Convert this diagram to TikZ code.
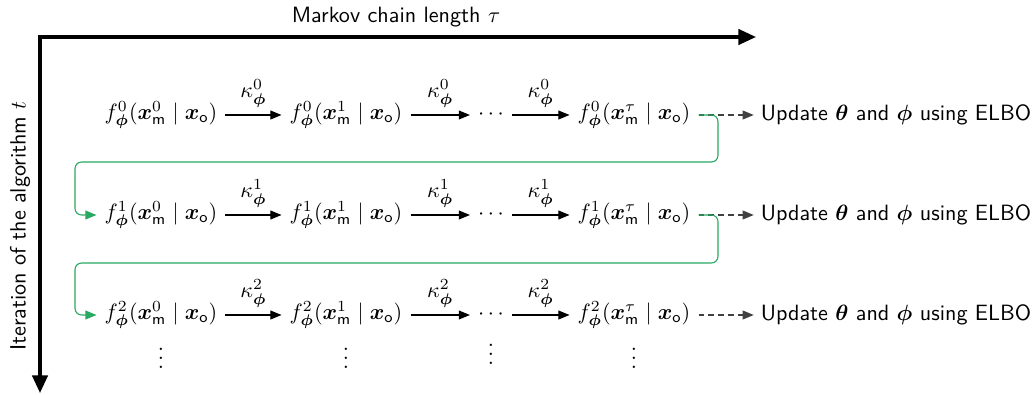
\documentclass[tikz,border=0pt]{standalone}
\usepackage{bm}
\usetikzlibrary{arrows.meta}
\definecolor{loopgreen}{RGB}{40,168,96}
\tikzset{
  fnode/.style={inner sep=3.5pt, anchor=center},
  chainarrow/.style={-{Triangle[length=5pt,width=4pt]}, line width=0.5pt},
  updarrow/.style={-{Triangle[length=5pt,width=4pt]}, line width=0.5pt, dash pattern=on 2.5pt off 2pt, black!75},
  looparrow/.style={-{Triangle[length=5pt,width=4pt]}, line width=0.5pt, loopgreen, rounded corners=3pt},
  axis/.style={line width=1.4pt, {Triangle[length=8pt,width=7pt]}-{Triangle[length=8pt,width=7pt]}},
  lbl/.style={font=\sffamily}
}
\newcommand{\fn}[2]{$f^{#1}_{\bm\phi}(\bm{x}^{#2}_{\mathsf{m}} \mid \bm{x}_{\mathsf{o}})$}
\newcommand{\kp}[1]{$\kappa^{#1}_{\bm\phi}$}
\begin{document}
\begin{tikzpicture}[x=0.452pt,y=-0.452pt]
\useasboundingbox (0,0) rectangle (1033,395);
% axes
\coordinate (orig) at (40,37);
\coordinate (xend) at (756,37);
\coordinate (yend) at (40,393);
\draw[axis] (yend) -- (orig) -- (xend);
\node[lbl] (xlab) at (396,17) {Markov chain length $\tau$};
\node[lbl, rotate=90] (ylab) at (20,226) {Iteration of the algorithm $t$};
% rows
\foreach \r/\yy in {0/115,1/215,2/315}{
  \node[fnode] (n\r a) at (161,\yy) {\fn{\r}{0}};
  \node[fnode] (n\r b) at (346,\yy) {\fn{\r}{1}};
  \node[fnode] (n\r c) at (491,\yy) {$\cdots$};
  \node[fnode] (n\r d) at (634,\yy) {\fn{\r}{\tau}};
  \node[lbl, inner sep=3pt] (u\r) at (896,\yy) {Update $\bm\theta$ and $\bm\phi$ using ELBO};
  \draw[chainarrow] (n\r a) -- node[above=0pt] {\kp{\r}} (n\r b);
  \draw[chainarrow] (n\r b) -- node[above=0pt] {\kp{\r}} (n\r c);
  \draw[chainarrow] (n\r c) -- node[above=0pt] {\kp{\r}} (n\r d);
  \draw[updarrow] (n\r d) -- (u\r);
}
% vertical dots
\node (va) at (161,352) {$\vdots$};
\node (vb) at (346,352) {$\vdots$};
\node (vc) at (491,348) {$\vdots$};
\node (vd) at (634,352) {$\vdots$};
% loops
\draw[looparrow] (n0d.east) -| (718,162) -| (75,215) -- (n1a.west);
\draw[looparrow] (n1d.east) -| (718,263) -| (75,315) -- (n2a.west);
\end{tikzpicture}
\end{document}
